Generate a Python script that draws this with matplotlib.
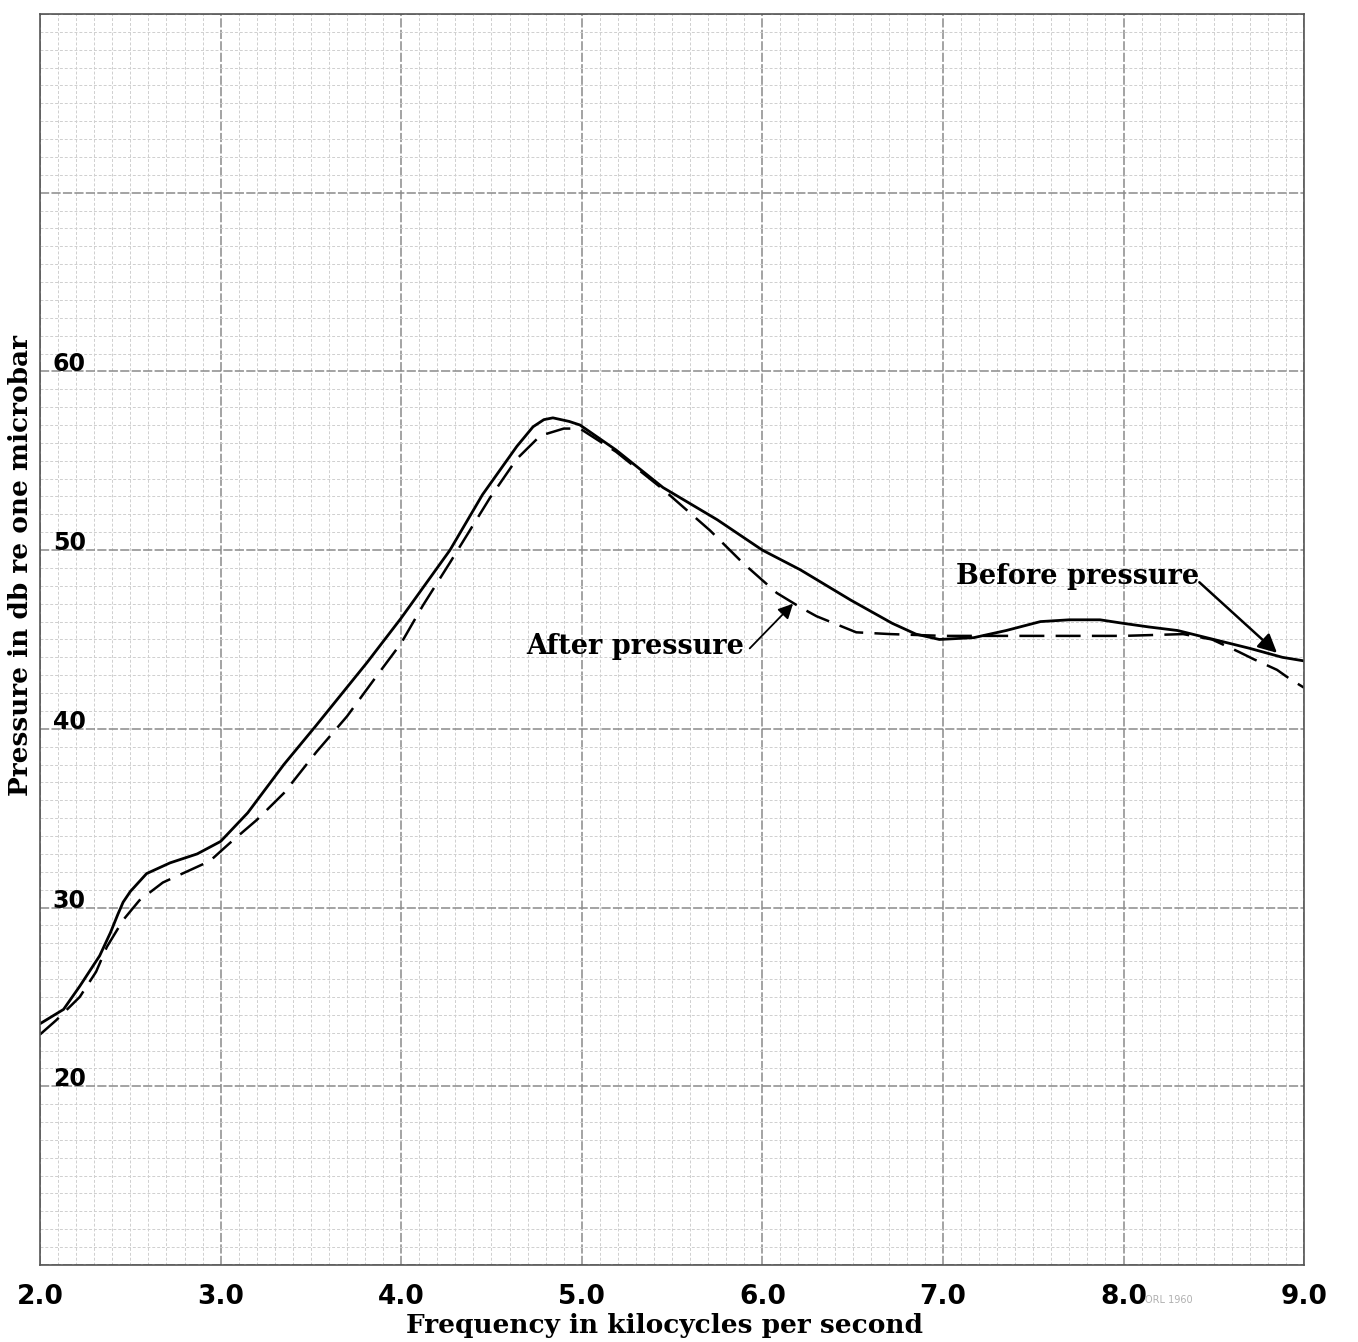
import matplotlib
matplotlib.use("Agg")
import matplotlib.pyplot as plt
import numpy as np

# readings off the curve sheet (kHz, db re 1 microbar)
freq_before = [2.00, 2.13, 2.22, 2.33, 2.39, 2.43, 2.46, 2.50, 2.59, 2.72,
               2.87, 3.00, 3.15, 3.35, 3.53, 3.81, 4.00, 4.27, 4.45, 4.64,
               4.73, 4.79, 4.84, 4.93, 4.99, 5.19, 5.45, 5.75, 6.00, 6.21,
               6.49, 6.72, 6.85, 6.98, 7.17, 7.35, 7.54, 7.70, 7.87, 8.00,
               8.14, 8.30, 8.46, 8.70, 8.88, 9.00]
db_before = [23.5, 24.3, 25.6, 27.3, 28.6, 29.6, 30.3, 30.9, 31.9, 32.5,
             33.0, 33.7, 35.3, 38.0, 40.2, 43.7, 46.2, 50.0, 53.1, 55.8,
             56.9, 57.3, 57.4, 57.2, 57.0, 55.6, 53.5, 51.7, 50.0, 48.9,
             47.2, 45.9, 45.3, 45.0, 45.1, 45.5, 46.0, 46.1, 46.1, 45.9,
             45.7, 45.5, 45.1, 44.5, 44.0, 43.8]

freq_after = [2.00, 2.09, 2.22, 2.31, 2.37, 2.46, 2.55, 2.68, 2.81, 2.94,
              3.05, 3.20, 3.35, 3.53, 3.70, 3.86, 4.00, 4.12, 4.27, 4.49,
              4.64, 4.77, 4.90, 4.99, 5.19, 5.45, 5.71, 5.89, 6.08, 6.21,
              6.30, 6.52, 6.71, 7.00, 7.50, 8.00, 8.33, 8.49, 8.64, 8.72,
              8.85, 8.92, 9.00]
db_after = [22.9, 23.7, 25.0, 26.4, 27.8, 29.3, 30.4, 31.4, 32.0, 32.6,
            33.6, 34.9, 36.4, 38.7, 40.7, 42.9, 44.8, 46.9, 49.3, 52.9,
            55.1, 56.4, 56.8, 56.8, 55.5, 53.4, 51.1, 49.3, 47.6, 46.8,
            46.3, 45.4, 45.3, 45.2, 45.2, 45.2, 45.3, 45.0, 44.3, 43.9,
            43.3, 42.8, 42.3]

x_ticks = [2.0, 3.0, 4.0, 5.0, 6.0, 7.0, 8.0, 9.0]
x_ticklabels = ["2.0", "3.0", "4.0", "5.0", "6.0", "7.0", "8.0", "9.0"]
y_labelled = [20, 30, 40, 50, 60]

fig = plt.figure(figsize=(13.58, 13.42), dpi=100)
ax = fig.add_axes([0.0295, 0.0574, 0.9308, 0.9322])

ax.set_xlim(2.0, 9.0)
ax.set_ylim(10, 80)

# graph paper
ax.set_xticks(x_ticks)
ax.set_xticks(np.arange(2.0, 9.001, 0.1), minor=True)
ax.set_yticks(np.arange(10, 81, 10))
ax.set_yticks(np.arange(10, 81, 1), minor=True)
ax.grid(which="minor", color="#cfcfcf", lw=0.7, linestyle=(0, (3, 2)))
ax.grid(which="major", color="#8a8a8a", lw=1.1, linestyle=(0, (6, 1.5)))
ax.set_axisbelow(True)
for s in ax.spines.values():
    s.set_color("#555555")
    s.set_linewidth(1.2)

ax.tick_params(which="both", length=0)
ax.set_yticklabels([])
ax.set_xticklabels(x_ticklabels, fontsize=19, fontweight="bold")
ax.tick_params(axis="x", pad=14)

for v in y_labelled:
    ax.text(2.07, v, str(v), fontsize=17, fontweight="bold",
            ha="left", va="baseline")

# curves
ax.plot(freq_before, db_before, color="black", lw=2.0,
        solid_capstyle="round", solid_joinstyle="round")
ax.plot(freq_after, db_after, color="black", lw=1.8,
        linestyle=(0, (10, 4.5)))

# labels with arrows
ax.text(5.90, 44.6, "After pressure", fontsize=19.5, fontweight="bold",
        family="DejaVu Serif", ha="right", va="center")
ax.annotate("", xy=(6.17, 47.0), xytext=(5.93, 44.5),
            arrowprops=dict(arrowstyle="-|>", color="black", lw=1.3,
                            mutation_scale=22, shrinkA=0, shrinkB=0))

ax.text(7.07, 48.5, "Before pressure", fontsize=19.5, fontweight="bold",
        family="DejaVu Serif", ha="left", va="center")
ax.annotate("", xy=(8.85, 44.25), xytext=(8.42, 48.2),
            arrowprops=dict(arrowstyle="-|>", color="black", lw=1.8,
                            mutation_scale=28, shrinkA=0, shrinkB=0))

# axis titles
fig.text(0.015, 1 - 565 / 1342, "Pressure in db re one microbar",
         rotation=90, fontsize=19, fontweight="bold", family="DejaVu Serif",
         ha="center", va="center")
fig.text(665 / 1358, 1 - 1326 / 1342, "Frequency in kilocycles per second",
         fontsize=19, fontweight="bold", family="DejaVu Serif",
         ha="center", va="center")

# faint stamp
fig.text(1145 / 1358, 1 - 1300 / 1342, "ORL 1960", fontsize=7,
         color="#b0b0b0", ha="left", va="center")

plt.savefig("out.png", dpi=100)
